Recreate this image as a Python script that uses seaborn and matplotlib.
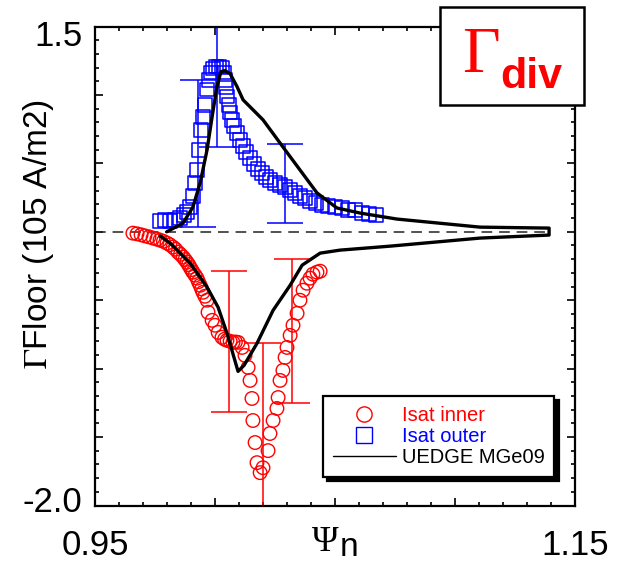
import matplotlib
matplotlib.use("Agg")
import numpy as np
import pandas as pd
import seaborn as sns
import matplotlib.pyplot as plt
import matplotlib.transforms as mtransforms
from matplotlib.lines import Line2D
from matplotlib.patches import Rectangle
from matplotlib.ticker import MultipleLocator

# ---------------- data ----------------
inner_psi = [0.9658, 0.9675, 0.9692, 0.9708, 0.9725, 0.9742, 0.9758, 0.9771, 0.9785, 0.9800,
             0.9812, 0.9825, 0.9835, 0.9846, 0.9856, 0.9867, 0.9875, 0.9883, 0.9890, 0.9896,
             0.9902, 0.9908, 0.9917, 0.9925, 0.9931, 0.9938, 0.9944, 0.9950, 0.9958, 0.9967,
             0.9971, 0.9988, 1.0000, 1.0013, 1.0029, 1.0040, 1.0050, 1.0063, 1.0075, 1.0085,
             1.0096, 1.0113, 1.0125, 1.0138, 1.0146, 1.0154, 1.0158, 1.0167, 1.0175, 1.0188,
             1.0200, 1.0221, 1.0229, 1.0242, 1.0258, 1.0263, 1.0271, 1.0283, 1.0292, 1.0300,
             1.0313, 1.0325, 1.0342, 1.0354, 1.0367, 1.0383, 1.0396, 1.0408, 1.0425, 1.0438]
inner_flux = [-0.010, -0.015, -0.022, -0.030, -0.037, -0.046, -0.054, -0.061, -0.070, -0.083,
              -0.095, -0.112, -0.127, -0.149, -0.165, -0.185, -0.203, -0.222, -0.240, -0.259,
              -0.277, -0.295, -0.317, -0.339, -0.365, -0.391, -0.417, -0.442, -0.471, -0.500,
              -0.588, -0.647, -0.683, -0.735, -0.771, -0.785, -0.793, -0.800, -0.808, -0.805,
              -0.808, -0.845, -0.903, -0.991, -1.086, -1.218, -1.379, -1.540, -1.687, -1.760,
              -1.724, -1.599, -1.474, -1.379, -1.291, -1.211, -1.086, -1.013, -0.918, -0.845,
              -0.757, -0.683, -0.596, -0.500, -0.427, -0.376, -0.339, -0.310, -0.295, -0.288]

outer_psi = [0.9771, 0.9792, 0.9813, 0.9833, 0.9854, 0.9871, 0.9883, 0.9896, 0.9908, 0.9917,
             0.9925, 0.9933, 0.9942, 0.9950, 0.9958, 0.9967, 0.9975, 0.9983, 0.9992, 1.0004,
             1.0017, 1.0029, 1.0038, 1.0042, 1.0046, 1.0050, 1.0058, 1.0063, 1.0071, 1.0079,
             1.0092, 1.0104, 1.0117, 1.0129, 1.0146, 1.0163, 1.0179, 1.0196, 1.0213, 1.0229,
             1.0250, 1.0271, 1.0292, 1.0313, 1.0333, 1.0354, 1.0375, 1.0396, 1.0421, 1.0446,
             1.0471, 1.0500, 1.0529, 1.0554, 1.0583, 1.0613, 1.0642, 1.0671]
outer_flux = [0.078, 0.086, 0.078, 0.086, 0.100, 0.122, 0.144, 0.181, 0.262, 0.357,
              0.452, 0.599, 0.745, 0.840, 0.928, 1.038, 1.111, 1.163, 1.192, 1.207,
              1.207, 1.199, 1.163, 1.111, 1.053, 0.987, 0.928, 0.870, 0.818, 0.774,
              0.723, 0.672, 0.628, 0.584, 0.540, 0.496, 0.459, 0.430, 0.401, 0.379,
              0.357, 0.342, 0.327, 0.305, 0.282, 0.262, 0.247, 0.225, 0.210, 0.196,
              0.188, 0.181, 0.174, 0.159, 0.159, 0.137, 0.130, 0.122]

uedge_inner_psi = [0.9771, 0.9813, 0.9896, 0.9967, 1.0013, 1.0050, 1.0096, 1.0121, 1.0175,
                   1.0242, 1.0313, 1.0363, 1.0438, 1.0521, 1.0729, 1.1104, 1.1392]
uedge_inner_flux = [-0.030, -0.083, -0.229, -0.405, -0.552, -0.742, -1.020, -0.976, -0.815,
                    -0.574, -0.391, -0.244, -0.156, -0.134, -0.105, -0.046, -0.024]
uedge_outer_psi = [0.9799, 0.9867, 0.9908, 0.9938, 0.9967, 0.9988, 1.0008, 1.0025, 1.0042,
                   1.0063, 1.0092, 1.0117, 1.0200, 1.0283, 1.0354, 1.0425, 1.0508, 1.0604,
                   1.0758, 1.1104, 1.1392]
uedge_outer_flux = [0.000, 0.064, 0.181, 0.357, 0.599, 0.840, 1.060, 1.170, 1.177,
                    1.155, 1.060, 0.964, 0.818, 0.620, 0.452, 0.284, 0.174, 0.137,
                    0.093, 0.034, 0.027]

inner_err_psi = [1.0058, 1.0199, 1.0320]
inner_err_flux = [-0.800, -1.760, -0.727]
inner_err = [0.514, 0.950, 0.527]
outer_err_psi = [0.9929, 1.0008, 1.0292]
outer_err_flux = [0.574, 1.200, 0.3545]
outer_err = [0.537, 0.577, 0.2885]

x_ticks = [0.95, 1.00, 1.05, 1.10, 1.15]
x_tick_labels = ["0.95", "", "", "", "1.15"]
y_ticks = [-2.0, -1.5, -1.0, -0.5, 0.0, 0.5, 1.0, 1.5]
y_tick_labels = ["-2.0", "", "", "", "", "", "", "1.5"]

series_labels = ["Isat inner", "Isat outer", "UEDGE MGe09"]

# ---------------- style ----------------
sns.set_theme(style="white")
plt.rcParams["font.family"] = ["Liberation Sans", "DejaVu Sans"]
plt.rcParams["mathtext.fontset"] = "stix"
plt.rcParams["axes.unicode_minus"] = False

RED = "#ff0000"
BLUE = "#0000ff"

fig = plt.figure(figsize=(6.17, 5.65), dpi=100)
W, H = 617.0, 565.0
ax = fig.add_axes([95 / W, 1 - 505.5 / H, 480 / W, 479 / H])

# zero reference line
ax.hlines(0, 0.95, max(uedge_outer_psi), colors="#222222",
          linestyles=(0, (7, 4.5)), lw=1.1, zorder=1)

# data markers
sns.scatterplot(x=outer_psi, y=outer_flux, marker="s", s=95, facecolor="none",
                edgecolor=BLUE, linewidth=1.1, ax=ax, zorder=3)
sns.scatterplot(x=inner_psi, y=inner_flux, marker="o", s=95, facecolor="none",
                edgecolor=RED, linewidth=1.0, ax=ax, zorder=3)

# error bars
ax.errorbar(outer_err_psi, outer_err_flux, yerr=outer_err, fmt="none",
            ecolor=BLUE, elinewidth=1.1, capsize=13, capthick=1.1, zorder=2)
ax.errorbar(inner_err_psi, inner_err_flux, yerr=inner_err, fmt="none",
            ecolor=RED, elinewidth=1.1, capsize=13, capthick=1.1, zorder=2)

# UEDGE model curve (inner branch out, outer branch back)
uedge = pd.DataFrame({
    "psi": uedge_inner_psi + uedge_outer_psi[::-1],
    "flux": uedge_inner_flux + uedge_outer_flux[::-1],
})
sns.lineplot(data=uedge, x="psi", y="flux", sort=False, estimator=None,
             color="black", lw=2.4, ax=ax, zorder=4)

# ---------------- axes ----------------
ax.set_xlim(0.95, 1.15)
ax.set_ylim(-2.0, 1.5)
ax.set_xticks(x_ticks, x_tick_labels)
ax.set_yticks(y_ticks, y_tick_labels)
ax.xaxis.set_minor_locator(MultipleLocator(0.01))
ax.yaxis.set_minor_locator(MultipleLocator(0.1))
ax.tick_params(which="both", direction="in", top=True, right=True,
               bottom=True, left=True, color="black", width=1.2)
ax.tick_params(which="major", length=6)
ax.tick_params(which="minor", length=3)
ax.tick_params(axis="x", which="major", labelsize=25, pad=17, labelcolor="black")
ax.tick_params(axis="y", which="major", labelsize=25, pad=9, labelcolor="black")
for sp in ax.spines.values():
    sp.set_visible(True)
    sp.set_color("black")
    sp.set_linewidth(1.6)
ax.grid(False)
ax.set_xlabel("")
ax.set_ylabel(r"$\Gamma$Floor (105 A/m2)", fontsize=24, color="black")
ax.yaxis.label.set_va("center")
ax.yaxis.set_label_coords(-0.117, 0.566)

# nudge end tick labels toward the middle like the original
ylabs = ax.get_yticklabels()
ylabs[-1].set_transform(ylabs[-1].get_transform() +
                        mtransforms.ScaledTranslation(0, -6 / 100, fig.dpi_scale_trans))
ylabs[0].set_transform(ylabs[0].get_transform() +
                       mtransforms.ScaledTranslation(0, 7 / 100, fig.dpi_scale_trans))

# x axis label  (Psi_n)
fig.text(325 / W, 1 - 551 / H, "\u03a8", family=["Liberation Serif", "DejaVu Serif"],
         fontsize=26, ha="center", va="baseline", color="black")
fig.text(340 / W, 1 - 556 / H, "n", fontsize=24, ha="left", va="baseline", color="black")

# ---------------- legend ----------------
handles = [
    Line2D([], [], marker="o", ls="none", mfc="none", mec=RED, ms=11, mew=1.0),
    Line2D([], [], marker="s", ls="none", mfc="none", mec=BLUE, ms=11, mew=1.0),
    Line2D([], [], color="black", lw=1.0),
]
leg = ax.legend(handles, series_labels, loc="upper left",
                bbox_to_anchor=(323 / W, 1 - 396 / H), bbox_transform=fig.transFigure,
                borderaxespad=0, fontsize=14.5, handlelength=3.1, handletextpad=0.3,
                labelspacing=0.1, borderpad=0.5, fancybox=False, framealpha=1,
                edgecolor="black", shadow={"ox": 3, "oy": -3, "color": "black", "alpha": 1})
leg.get_frame().set_linewidth(1.6)
for t, c in zip(leg.get_texts(), [RED, BLUE, "black"]):
    t.set_color(c)

# ---------------- title box ----------------
fig.add_artist(Rectangle((440 / W, 1 - 105 / H), 144 / W, 98 / H,
                         transform=fig.transFigure, facecolor="white",
                         edgecolor="black", lw=1.8, zorder=5))
fig.text(462 / W, 1 - 72 / H, "\u0393", family=["Liberation Serif", "DejaVu Serif"],
         fontsize=47, color=RED, ha="left", va="baseline", zorder=6)
fig.text(500 / W, 1 - 88 / H, "div", fontsize=31, fontweight="bold", color=RED,
         ha="left", va="baseline", zorder=6)

fig.savefig("out.png", dpi=100)
